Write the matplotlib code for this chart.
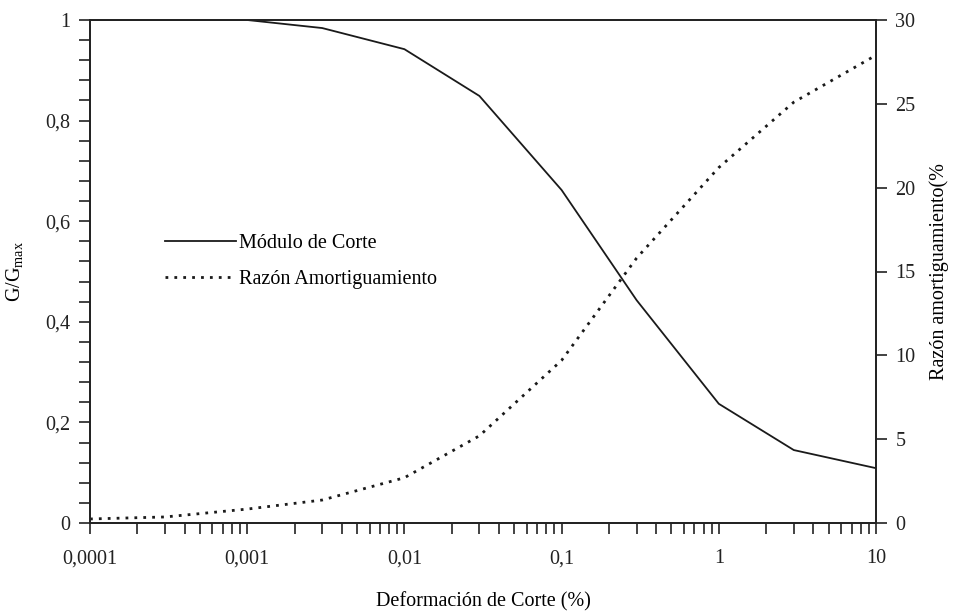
import matplotlib
matplotlib.use("Agg")
import matplotlib.pyplot as plt
from matplotlib.ticker import FixedLocator, MultipleLocator, FixedFormatter, NullFormatter

plt.rcParams['font.family'] = ['Liberation Serif', 'DejaVu Serif']
plt.rcParams['mathtext.fontset'] = 'custom'
plt.rcParams['mathtext.rm'] = 'Liberation Serif'

# deformacion de corte (%) y curvas
deformacion = [0.0001, 0.0003, 0.001, 0.003, 0.01, 0.03, 0.1, 0.3, 1, 3, 10]
modulo = [1.0, 1.0, 1.0, 0.984, 0.942, 0.849, 0.662, 0.443, 0.237, 0.145, 0.109]
amortiguamiento = [0.24, 0.36, 0.83, 1.37, 2.7, 5.2, 9.7, 15.8, 21.2, 25.1, 27.9]

ticks_x = [1e-4, 1e-3, 1e-2, 1e-1, 1, 10]
etiquetas_x = ['0,0001', '0,001', '0,01', '0,1', '1', '10']
ticks_y = [0, 0.2, 0.4, 0.6, 0.8, 1.0]
etiquetas_y = ['0', '0,2', '0,4', '0,6', '0,8', '1']

fig = plt.figure(figsize=(9.54, 6.12), dpi=100)
ax = fig.add_axes([90 / 954, 1 - 523 / 612, 786 / 954, 503 / 612])
ax2 = ax.twinx()

l1, = ax.plot(deformacion, modulo, color='#1a1a1a', lw=1.3, label='Módulo de Corte')
l2, = ax2.plot(deformacion, amortiguamiento, color='#1a1a1a', lw=2.0,
               ls=(0, (1, 2.2)), label='Razón Amortiguamiento')

ax.set_xscale('log')
ax.set_xlim(0.0001, 10)
ax.set_ylim(0, 1)
ax2.set_ylim(0, 30)

ax.xaxis.set_major_locator(FixedLocator(ticks_x))
ax.xaxis.set_major_formatter(FixedFormatter(etiquetas_x))
ax.xaxis.set_minor_formatter(NullFormatter())

ax.yaxis.set_major_locator(FixedLocator(ticks_y))
ax.yaxis.set_major_formatter(FixedFormatter(etiquetas_y))
ax.yaxis.set_minor_locator(MultipleLocator(0.04))
ax2.yaxis.set_major_locator(MultipleLocator(5))

for a in (ax, ax2):
    for s in a.spines.values():
        s.set_linewidth(1.3)
        s.set_color('#222222')
    a.tick_params(which='both', direction='out', length=8, width=1.2,
                  colors='#222222', labelsize=14.5, pad=6)
ax.tick_params(axis='x', which='both', pad=11)

ax.set_xlabel('Deformación de Corte (%)', fontsize=14.5, labelpad=17)
ax.set_ylabel('G/G$_{\\mathregular{max}}$', fontsize=14.5, labelpad=14)
ax2.set_ylabel('Razón amortiguamiento(%', fontsize=14.5, labelpad=10)

ax.legend(handles=[l1, l2], loc='upper left', bbox_to_anchor=(0.0725, 0.61),
          frameon=False, fontsize=14.5, handlelength=3.5, handletextpad=0.15,
          labelspacing=0.8)

fig.savefig('out.png', dpi=100)
